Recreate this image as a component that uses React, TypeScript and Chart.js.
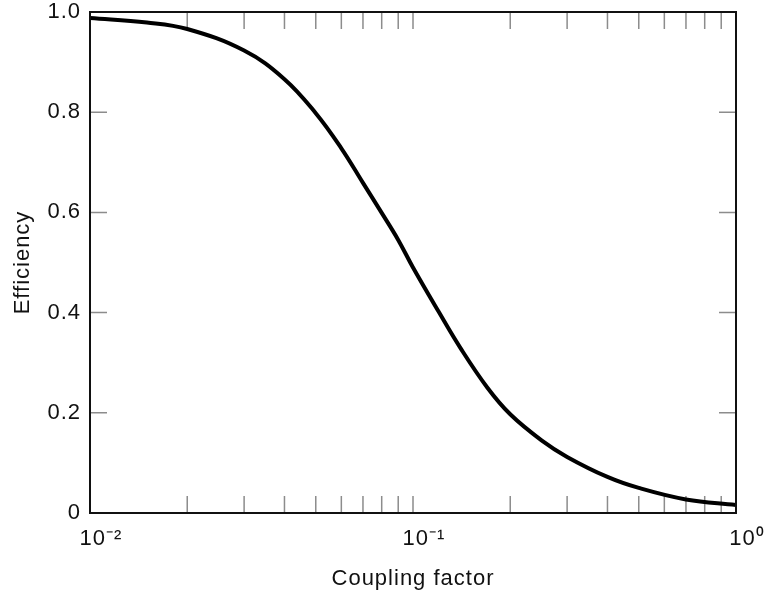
import React, { useEffect, useRef } from 'react';
import { Chart, registerables } from 'chart.js';

Chart.register(...registerables);

// ---- data ----
const couplingFactor = [0.01, 0.015, 0.02, 0.03, 0.04, 0.05, 0.06, 0.07, 0.08, 0.09, 0.1, 0.12, 0.14, 0.17, 0.2, 0.25, 0.3, 0.4, 0.5, 0.7, 1.0];
const efficiency = [0.988, 0.979, 0.966, 0.923, 0.866, 0.798, 0.728, 0.659, 0.599, 0.545, 0.49, 0.402, 0.33, 0.25, 0.197, 0.145, 0.112, 0.072, 0.05, 0.027, 0.016];

const xTickValues = [0.01, 0.02, 0.03, 0.04, 0.05, 0.06, 0.07, 0.08, 0.09, 0.1, 0.2, 0.3, 0.4, 0.5, 0.6, 0.7, 0.8, 0.9, 1];
const xMajorExponents = [-2, -1, 0];
const xMajorLabels = ['10⁻²', '10⁻¹', '10⁰'];
const yTickValues = [0, 0.2, 0.4, 0.6, 0.8, 1.0];
const yTickLabels = ['0', '0.2', '0.4', '0.6', '0.8', '1.0'];
const xTitle = 'Coupling factor';
const yTitle = 'Efficiency';

const FONT = "'Liberation Sans', Arial, Helvetica, sans-serif";
const TEXT = '#111';

const framePlugin = {
  id: 'frameTicks',
  beforeDraw(chart: any) {
    (chart.ctx as any).letterSpacing = '1px';
  },
  beforeDatasetsDraw(chart: any) {
    const { ctx, chartArea: a, scales } = chart;
    const x = scales.x;
    const y = scales.y;
    const L = 17;
    ctx.save();
    ctx.strokeStyle = '#8c8c8c';
    ctx.lineWidth = 1.5;
    ctx.beginPath();
    x.ticks.forEach((t: any) => {
      const px = x.getPixelForValue(t.value);
      ctx.moveTo(px, a.bottom);
      ctx.lineTo(px, a.bottom - L);
      ctx.moveTo(px, a.top);
      ctx.lineTo(px, a.top + L);
    });
    y.ticks.forEach((t: any) => {
      const py = y.getPixelForValue(t.value);
      ctx.moveTo(a.left, py);
      ctx.lineTo(a.left + L, py);
      ctx.moveTo(a.right, py);
      ctx.lineTo(a.right - L, py);
    });
    ctx.stroke();
    ctx.restore();
  },
  afterDatasetsDraw(chart: any) {
    const { ctx, chartArea: a } = chart;
    ctx.save();
    ctx.strokeStyle = '#111';
    ctx.lineWidth = 2;
    ctx.strokeRect(a.left, a.top, a.right - a.left, a.bottom - a.top);
    ctx.restore();
  },
};

export default function App() {
  const ref = useRef<HTMLCanvasElement | null>(null);

  useEffect(() => {
    if (!ref.current) return;
    const chart = new Chart(ref.current, {
      type: 'line',
      data: {
        datasets: [
          {
            label: yTitle,
            data: couplingFactor.map((k, i) => ({ x: k, y: efficiency[i] })),
            borderColor: '#000',
            borderWidth: 4,
            pointRadius: 0,
            fill: false,
            tension: 0.4,
          },
        ],
      },
      options: {
        animation: false,
        responsive: true,
        maintainAspectRatio: false,
        layout: { padding: { top: 12, right: 32, left: 0, bottom: 0 } },
        plugins: { legend: { display: false }, tooltip: { enabled: false } },
        scales: {
          x: {
            type: 'logarithmic',
            min: 0.01,
            max: 1,
            grid: { display: false, drawTicks: false },
            border: { display: false },
            afterBuildTicks: (s: any) => {
              s.ticks = xTickValues.map((v) => ({ value: v }));
            },
            afterFit: (s: any) => {
              s.height = 86;
              s.paddingLeft = 0;
              s.paddingRight = 0;
            },
            ticks: {
              autoSkip: false,
              maxRotation: 0,
              padding: 13,
              labelOffset: 11,
              color: TEXT,
              font: { family: FONT, size: 22 },
              callback: (value: any) => {
                const e = Math.log10(Number(value));
                const idx = xMajorExponents.findIndex((m) => Math.abs(m - e) < 1e-9);
                return idx >= 0 ? xMajorLabels[idx] : '';
              },
            },
            title: {
              display: true,
              text: xTitle,
              color: TEXT,
              font: { family: FONT, size: 22 },
              padding: { top: 0, bottom: 7 },
            },
          },
          y: {
            type: 'linear',
            min: 0,
            max: 1,
            grid: { display: false, drawTicks: false },
            border: { display: false },
            afterBuildTicks: (s: any) => {
              s.ticks = yTickValues.map((v) => ({ value: v }));
            },
            afterFit: (s: any) => {
              s.width = 90;
              s.paddingTop = 0;
              s.paddingBottom = 0;
            },
            ticks: {
              padding: 9,
              color: TEXT,
              font: { family: FONT, size: 22 },
              callback: (value: any) => {
                const idx = yTickValues.findIndex((v) => Math.abs(v - Number(value)) < 1e-9);
                return idx >= 0 ? yTickLabels[idx] : '';
              },
            },
            title: {
              display: true,
              text: yTitle,
              color: TEXT,
              font: { family: FONT, size: 22 },
              padding: { top: 10, bottom: 0 },
            },
          },
        },
      },
      plugins: [framePlugin],
    } as any);
    return () => chart.destroy();
  }, []);

  return (
    <div style={{ position: 'absolute', left: 0, top: 0, width: 768, height: 599, background: '#fff' }}>
      <canvas ref={ref} />
    </div>
  );
}
